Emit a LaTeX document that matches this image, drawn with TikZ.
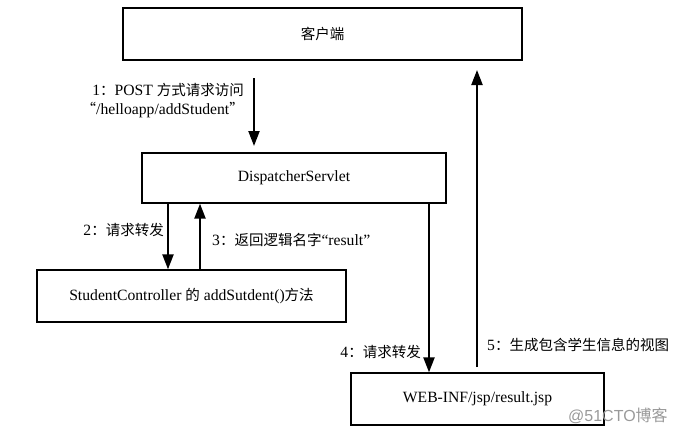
\documentclass[tikz,border=0pt]{standalone}
\usepackage{fontspec}
\setmainfont[Scale=1.08]{Liberation Serif}
\newfontfamily\cjk{Noto Sans CJK SC}
\newfontfamily\wmfont{Liberation Sans}
\usetikzlibrary{arrows.meta}
\begin{document}
\begin{tikzpicture}[x=1pt,y=-1pt,
  box/.style={draw,line width=1.3pt,minimum width=#1,inner sep=0pt,font=\fontsize{14.5}{17}\selectfont},
  flow/.style={line width=2.2pt,-{Triangle[width=11pt,length=15pt]}},
  lbl/.style={inner sep=0pt,font=\fontsize{14.5}{17}\selectfont,align=center}]
\useasboundingbox (0,0) rectangle (677,434);
\node[box=399pt,minimum height=52pt] (client) at (322.5,34) {\cjk 客户端};
\node[box=304pt,minimum height=50pt] (disp) at (294,178) {DispatcherServlet};
\node[box=309pt,minimum height=52pt] (stud) at (191.5,296) {StudentController {\cjk 的} addSutdent(){\cjk 方法}};
\node[box=253pt,minimum height=52pt] (res) at (477.5,399) {WEB-INF/jsp/result.jsp};
% arrow 1
\coordinate (a1s) at (254,78);
\coordinate (a1e) at (254,146);
\draw[flow] (a1s) -- (a1e);
\node[lbl,anchor=east] (l1a) at (244,90) {1{\cjk ：}POST {\cjk 方式请求访问}};
\node[lbl,anchor=east] (l1b) at (244,110) {{\cjk “}/helloapp/addStudent{\cjk ”}};
% arrows 2 and 3
\draw[flow] (disp.south -| 168,0) -- (stud.north -| 168,0);
\draw[flow] (stud.north -| 200,0) -- (disp.south -| 200,0);
\node[lbl,anchor=east] (l2) at (164,230) {2{\cjk ：请求转发}};
\node[lbl,anchor=west] (l3) at (212,240) {3{\cjk ：返回逻辑名字}“result”};
% arrow 4
\draw[flow] (disp.south -| 429,0) -- (res.north -| 429,0);
\node[lbl,anchor=east] (l4) at (421,352) {4{\cjk ：请求转发}};
% arrow 5
\coordinate (a5s) at (477,367);
\coordinate (a5e) at (477,70);
\draw[flow] (a5s) -- (a5e);
\node[lbl,anchor=west] (l5) at (487,345) {5{\cjk ：生成包含学生信息的视图}};
% watermark
\node[inner sep=0pt,anchor=west,text=black!40,font=\fontsize{16}{18}\selectfont] (wm) at (568,416) {\wmfont @51CTO{\cjk 博客}};
\end{tikzpicture}
\end{document}
